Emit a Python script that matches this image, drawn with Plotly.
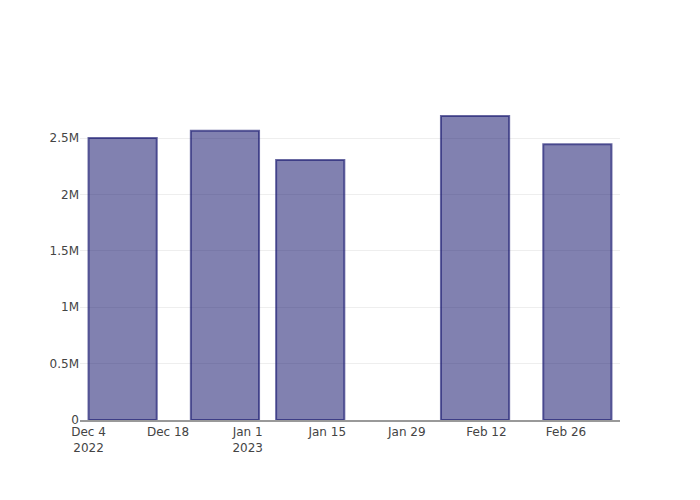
import plotly.graph_objects as go

dates = ["2022-12-10", "2022-12-28", "2023-01-12", "2023-02-10", "2023-02-28"]
values = [2500000, 2565000, 2305000, 2695000, 2445000]

fig = go.Figure(
    go.Bar(
        x=dates,
        y=values,
        marker=dict(
            color="rgba(25,25,112,0.55)",
            line=dict(color="rgba(25,25,112,0.65)", width=2),
        ),
    )
)

fig.update_layout(
    width=700,
    height=500,
    template="none",
    plot_bgcolor="white",
    paper_bgcolor="white",
    margin=dict(l=80, r=80, t=100, b=80),
    font=dict(family="DejaVu Sans", color="#444", size=12),
    showlegend=False,
)
fig.update_xaxes(
    showgrid=False,
    showline=True,
    linecolor="#999",
    linewidth=2,
    ticks="",
    dtick=14 * 24 * 3600 * 1000,
    tick0="2022-12-04",
    tickformat="%b %-d\n%Y",
)
fig.update_yaxes(
    showgrid=True,
    gridcolor="#eee",
    zeroline=False,
    ticks="",
    dtick=500000,
)

fig.write_html(
    "out.html",
    config={"displayModeBar": False},
    post_script="document.body.style.margin='0';document.body.style.overflow='hidden';",
)
